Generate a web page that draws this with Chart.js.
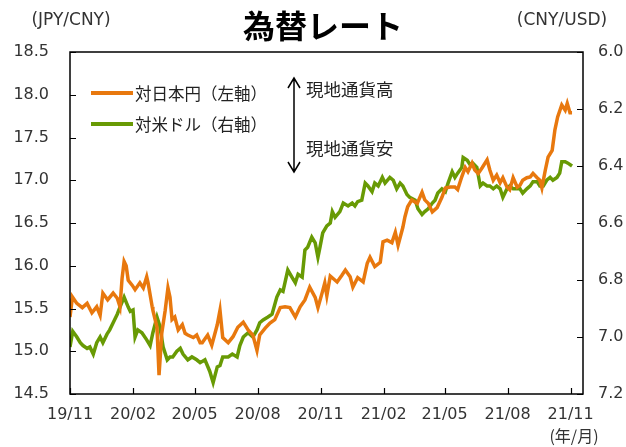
<!DOCTYPE html>
<html><head><meta charset="utf-8">
<script src="https://cdn.jsdelivr.net/npm/chart.js@4/dist/chart.umd.min.js"></script>
<style>html,body{margin:0;padding:0;background:#fff;}#wrap{width:626px;height:447px;position:relative;}</style>
</head><body><div id="wrap"><canvas id="c" width="626" height="447"></canvas></div>
<script>
const titleText = '為替レート';
const leftUnit = '(JPY/CNY)';
const rightUnit = '(CNY/USD)';
const xUnit = '(年/月)';
const seriesNames = ['対日本円（左軸）', '対米ドル（右軸）'];
const noteUp = '現地通貨高';
const noteDown = '現地通貨安';

// x axis: days since 2019-11-01
const xTickDays = [0, 92, 182, 274, 366, 458, 547, 639, 731];
const xTickLabels = ['19/11', '20/02', '20/05', '20/08', '20/11', '21/02', '21/05', '21/08', '21/11'];
const leftTicks = [14.5, 15.0, 15.5, 16.0, 16.5, 17.0, 17.5, 18.0, 18.5];
const rightTicks = [6.0, 6.2, 6.4, 6.6, 6.8, 7.0, 7.2];

// JPY per CNY (left axis)
const jpyDays = [
  0,3,4,10,18,25,32,39,44,48,
  55,63,69,73,76,79,82,85,91,95,
  102,107,112,114,120,121,127,130,134,139,
  143,146,149,153,158,164,168,172,180,185,
  190,193,201,207,215,219,223,231,238,245,
  253,260,267,273,277,285,292,299,307,314,
  321,329,336,343,350,358,362,368,372,375,
  380,390,397,402,409,413,420,428,434,438,
  445,453,457,463,470,475,479,486,489,493,
  499,507,514,518,523,529,536,543,548,555,
  562,566,572,577,581,587,591,596,602,609,
  613,618,623,628,632,638,642,647,653,657,
  661,667,672,676,682,686,689,694,698,704,
  708,712,718,723,726,730,733
];
const jpyRates = [
  15.40,15.60,15.63,15.56,15.51,15.56,15.45,15.52,15.42,15.68,
  15.60,15.68,15.62,15.52,15.85,16.05,16.00,15.83,15.77,15.72,
  15.80,15.74,15.87,15.80,15.52,15.48,15.28,14.72,15.21,15.48,
  15.74,15.63,15.37,15.40,15.25,15.31,15.21,15.19,15.16,15.19,
  15.10,15.10,15.19,15.07,15.31,15.48,15.16,15.10,15.17,15.28,
  15.34,15.25,15.19,15.01,15.19,15.27,15.33,15.37,15.51,15.52,
  15.51,15.40,15.52,15.60,15.75,15.63,15.51,15.68,15.80,15.65,
  15.88,15.81,15.89,15.95,15.87,15.75,15.86,15.81,16.03,16.10,
  15.99,16.04,16.28,16.30,16.27,16.39,16.24,16.45,16.57,16.69,
  16.77,16.73,16.86,16.77,16.73,16.63,16.68,16.80,16.91,16.92,
  16.92,16.89,17.04,17.15,17.10,17.20,17.12,17.08,17.15,17.24,
  17.12,17.00,17.06,16.97,17.03,16.92,16.89,17.03,16.92,16.94,
  17.00,17.03,17.04,17.08,17.03,17.00,16.91,17.12,17.27,17.35,
  17.59,17.74,17.88,17.82,17.90,17.79,17.79
];

// CNY per USD (right axis, reversed)
const usdDays = [
  0,4,10,15,19,25,29,34,39,44,
  48,54,58,63,69,73,79,85,88,92,
  95,99,105,112,117,121,127,131,136,142,
  146,150,156,161,165,172,178,185,190,197,
  204,209,215,219,223,231,237,244,248,253,
  260,267,273,277,282,289,295,302,307,311,
  318,324,329,333,339,343,347,353,358,362,
  365,369,375,380,383,387,394,399,406,412,
  416,420,426,431,435,441,445,450,456,460,
  467,472,477,482,486,492,496,504,508,514,
  518,523,529,533,537,543,548,552,558,562,
  566,572,574,580,584,588,594,599,603,609,
  613,618,623,628,632,638,642,647,653,657,
  661,667,672,676,682,686,691,696,701,705,
  711,715,718,723,727,733
];
const usdRates = [
  7.035,6.98,7.00,7.02,7.03,7.04,7.035,7.06,7.02,7.00,
  7.02,6.99,6.975,6.95,6.92,6.895,6.86,6.895,6.91,6.905,
  7.00,6.975,6.985,7.01,7.03,6.985,6.93,6.96,7.035,7.08,
  7.07,7.07,7.05,7.04,7.06,7.08,7.07,7.08,7.09,7.08,
  7.12,7.16,7.105,7.10,7.07,7.07,7.06,7.07,7.03,7.00,
  6.985,7.00,6.975,6.95,6.94,6.93,6.92,6.86,6.835,6.84,
  6.765,6.79,6.81,6.78,6.79,6.695,6.685,6.65,6.67,6.72,
  6.685,6.635,6.61,6.60,6.56,6.58,6.56,6.53,6.54,6.53,
  6.54,6.525,6.52,6.46,6.47,6.49,6.46,6.47,6.44,6.46,
  6.44,6.45,6.48,6.46,6.47,6.50,6.51,6.52,6.55,6.57,
  6.56,6.55,6.53,6.52,6.495,6.48,6.49,6.46,6.42,6.44,
  6.425,6.405,6.37,6.38,6.395,6.39,6.405,6.47,6.46,6.47,
  6.47,6.48,6.47,6.48,6.51,6.48,6.47,6.48,6.48,6.48,
  6.495,6.48,6.47,6.455,6.455,6.47,6.47,6.45,6.44,6.45,
  6.44,6.425,6.385,6.385,6.39,6.40
];

const ORANGE = '#E8780E';
const GREEN = '#689A04';
const NUMFONT = '"DejaVu Sans", sans-serif';
const JPFONT = '"Noto Sans CJK JP", sans-serif';

const decor = {
  id: 'decor',
  afterDraw(chart) {
    const ctx = chart.ctx;
    const a = chart.chartArea;
    const xs = chart.scales.x, ys = chart.scales.y, y1 = chart.scales.y1;
    ctx.save();
    // frame
    ctx.strokeStyle = '#000';
    ctx.lineWidth = 1.5;
    ctx.strokeRect(a.left, a.top, a.right - a.left, a.bottom - a.top);
    // inward ticks
    ctx.lineWidth = 1.2;
    ctx.beginPath();
    leftTicks.forEach(v => { const y = Math.round(ys.getPixelForValue(v)) + 0.5; ctx.moveTo(a.left, y); ctx.lineTo(a.left + 6, y); });
    rightTicks.forEach(v => { const y = Math.round(y1.getPixelForValue(v)) + 0.5; ctx.moveTo(a.right, y); ctx.lineTo(a.right - 6, y); });
    xTickDays.forEach(d => { const x = Math.round(xs.getPixelForValue(d)) + 0.5; ctx.moveTo(x, a.bottom); ctx.lineTo(x, a.bottom - 6); });
    ctx.stroke();
    // title
    ctx.fillStyle = '#000';
    ctx.textBaseline = 'middle';
    ctx.textAlign = 'center';
    ctx.font = 'bold 32px ' + JPFONT;
    ctx.fillText(titleText, 323, 26);
    // units
    ctx.fillStyle = '#333';
    ctx.font = '17px ' + NUMFONT;
    ctx.fillText(leftUnit, 71, 21);
    ctx.fillText(rightUnit, 562, 21);
    ctx.font = '16px ' + JPFONT;
    ctx.fillText(xUnit, 574, 436);
    // legend
    const cols = [ORANGE, GREEN];
    const ly = [93, 124];
    ctx.lineWidth = 4;
    ctx.textAlign = 'left';
    ctx.font = '16.5px ' + JPFONT;
    for (let i = 0; i < 2; i++) {
      ctx.strokeStyle = cols[i];
      ctx.beginPath(); ctx.moveTo(91, ly[i]); ctx.lineTo(133, ly[i]); ctx.stroke();
      ctx.fillStyle = '#222';
      ctx.fillText(seriesNames[i], 135, ly[i] + 1);
    }
    // arrow
    ctx.strokeStyle = '#000';
    ctx.lineWidth = 1.5;
    ctx.beginPath();
    ctx.moveTo(294, 78); ctx.lineTo(294, 172);
    ctx.moveTo(288, 88); ctx.lineTo(294, 78); ctx.lineTo(300, 88);
    ctx.moveTo(288, 162); ctx.lineTo(294, 172); ctx.lineTo(300, 162);
    ctx.stroke();
    ctx.font = '17.5px ' + JPFONT;
    ctx.fillStyle = '#222';
    ctx.fillText(noteUp, 306, 89);
    ctx.fillText(noteDown, 306, 148);
    ctx.restore();
  }
};

new Chart(document.getElementById('c'), {
  type: 'line',
  data: {
    datasets: [
      { label: seriesNames[0], data: jpyDays.map((d, i) => ({ x: d, y: jpyRates[i] })), yAxisID: 'y',
        borderColor: ORANGE, borderWidth: 3.5, pointRadius: 0, tension: 0, fill: false },
      { label: seriesNames[1], data: usdDays.map((d, i) => ({ x: d, y: usdRates[i] })), yAxisID: 'y1',
        borderColor: GREEN, borderWidth: 3.5, pointRadius: 0, tension: 0, fill: false }
    ]
  },
  options: {
    responsive: false,
    animation: false,
    devicePixelRatio: 1,
    layout: { padding: { top: 52, left: 0, right: 0, bottom: 0 } },
    plugins: { legend: { display: false }, title: { display: false }, tooltip: { enabled: false } },
    scales: {
      x: {
        type: 'linear', min: 0, max: 749,
        afterBuildTicks: s => { s.ticks = xTickDays.map(v => ({ value: v })); },
        afterFit: s => { s.height = 53; },
        grid: { display: false, drawTicks: false },
        border: { display: false },
        ticks: { autoSkip: false, maxRotation: 0, padding: 11, color: '#333',
          font: { family: NUMFONT, size: 16 },
          callback: (v, i) => xTickLabels[i] }
      },
      y: {
        position: 'left', min: 14.5, max: 18.5,
        afterBuildTicks: s => { s.ticks = leftTicks.map(v => ({ value: v })); },
        afterFit: s => { s.width = 70; },
        grid: { display: false, drawTicks: false },
        border: { display: false },
        ticks: { padding: 21, color: '#333', font: { family: NUMFONT, size: 16 },
          callback: v => Number(v).toFixed(1) }
      },
      y1: {
        position: 'right', min: 6.0, max: 7.2, reverse: true,
        afterBuildTicks: s => { s.ticks = rightTicks.map(v => ({ value: v })); },
        afterFit: s => { s.width = 43; },
        grid: { display: false, drawTicks: false },
        border: { display: false },
        ticks: { padding: 15, color: '#333', font: { family: NUMFONT, size: 16 },
          callback: v => Number(v).toFixed(1) }
      }
    }
  },
  plugins: [decor]
});
</script>
</body></html>
